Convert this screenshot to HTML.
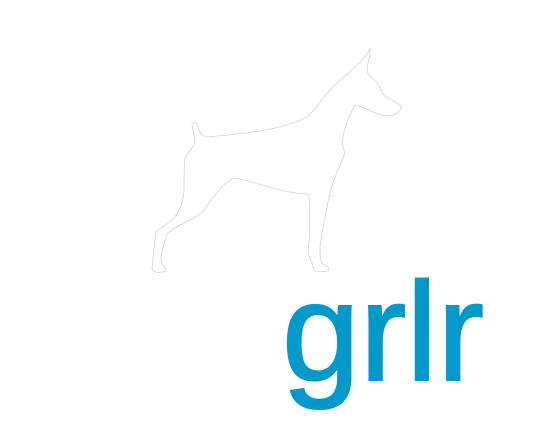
<!DOCTYPE html>
<html><head><meta charset="utf-8"><style>
html,body{margin:0;padding:0;background:#fff;width:544px;height:444px;overflow:hidden}
</style></head><body>
<svg width="544" height="444" viewBox="0 0 544 444">
<path fill="#fff" stroke="#d4d4d4" stroke-width="0.8"
d="M370,48 C371,56 367,62 367,72 C370,78 378,80 380,88 C382,98 395,100 402,107 C399,113 393,116 388,116 C375,115 365,107 355,105 C348,118 343,130 342,145 C345,150 345,155 343,158 C338,170 333,180 330,193 C326,212 322,230 320,247 C320,255 320,262 323,264 C327,266 331,268 328,271 C322,272 316,272 314,270 C312,262 310,258 308,253 C310,235 310,215 309,195 C305,193 300,194 296,193 C275,190 255,182 235,178 C225,180 212,198 203,212 C192,220 175,226 167,234 C164,244 161,252 161,260 C162,265 167,268 166,271 C162,273 155,273 152,270 C153,258 154,245 156,232 C163,226 172,222 177,214 C182,205 184,198 184,190 C184,178 184,165 185,158 C190,150 195,145 195,140 C194,133 192,128 192,124 C194,122 196,122 197,124 C199,130 200,136 207,137 C240,134 280,131 307,117 C318,108 322,98 330,90 C340,80 350,72 357,65 C362,60 368,55 370,48 Z"/>
<text x="282" y="380" font-family="'Liberation Sans', sans-serif" font-size="140" fill="#0199cb" stroke="#0199cb" stroke-width="2" textLength="202" lengthAdjust="spacingAndGlyphs">grlr</text>
</svg>
</body></html>
